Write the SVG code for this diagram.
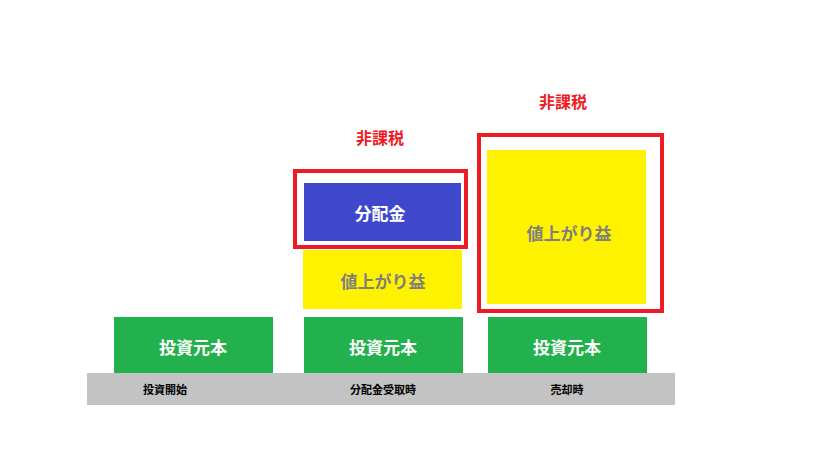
<svg xmlns="http://www.w3.org/2000/svg" width="825" height="455" viewBox="0 0 825 455">
<style>
text{font-family:"Noto Sans CJK JP","Noto Sans",sans-serif;font-weight:bold;text-anchor:middle;dominant-baseline:central}
.g{fill:#22b14c}.y{fill:#fff200}.b{fill:#3f48cc}.frame{fill:none;stroke:#ed1c24;stroke-width:4}
.w{fill:#fff;font-size:17px}.gy{fill:#7f7f7f;font-size:17px}.r{fill:#ed1c24;font-size:16px}.k{fill:#000;font-size:11px}
</style>
<rect width="825" height="455" fill="#fff"/>
<g id="base"><rect x="87" y="373" width="588" height="32" fill="#c3c3c3"/>
<text class="k" x="165" y="389">投資開始</text><text class="k" x="383" y="389">分配金受取時</text><text class="k" x="567" y="389">売却時</text></g>
<g id="principal1"><rect class="g" x="114" y="317" width="159" height="56"/><text class="w" x="193" y="346">投資元本</text></g>
<g id="principal2"><rect class="g" x="304" y="317" width="159" height="56"/><text class="w" x="383" y="346">投資元本</text></g>
<g id="principal3"><rect class="g" x="488" y="317" width="159" height="56"/><text class="w" x="567" y="346">投資元本</text></g>
<g id="gain2"><rect class="y" x="303" y="250" width="159" height="59"/><text class="gy" x="383" y="280">値上がり益</text></g>
<g id="dividend"><rect class="b" x="304" y="183" width="157" height="58"/><text class="w" x="380" y="212">分配金</text><rect class="frame" x="295" y="171" width="171" height="76"/><text class="r" x="380" y="137">非課税</text></g>
<g id="gain3"><rect class="y" x="487" y="150" width="159" height="154"/><text class="gy" x="569" y="232">値上がり益</text><rect class="frame" x="479" y="135" width="183" height="176"/><text class="r" x="563" y="101">非課税</text></g>
<g id="connectors"/>
</svg>
